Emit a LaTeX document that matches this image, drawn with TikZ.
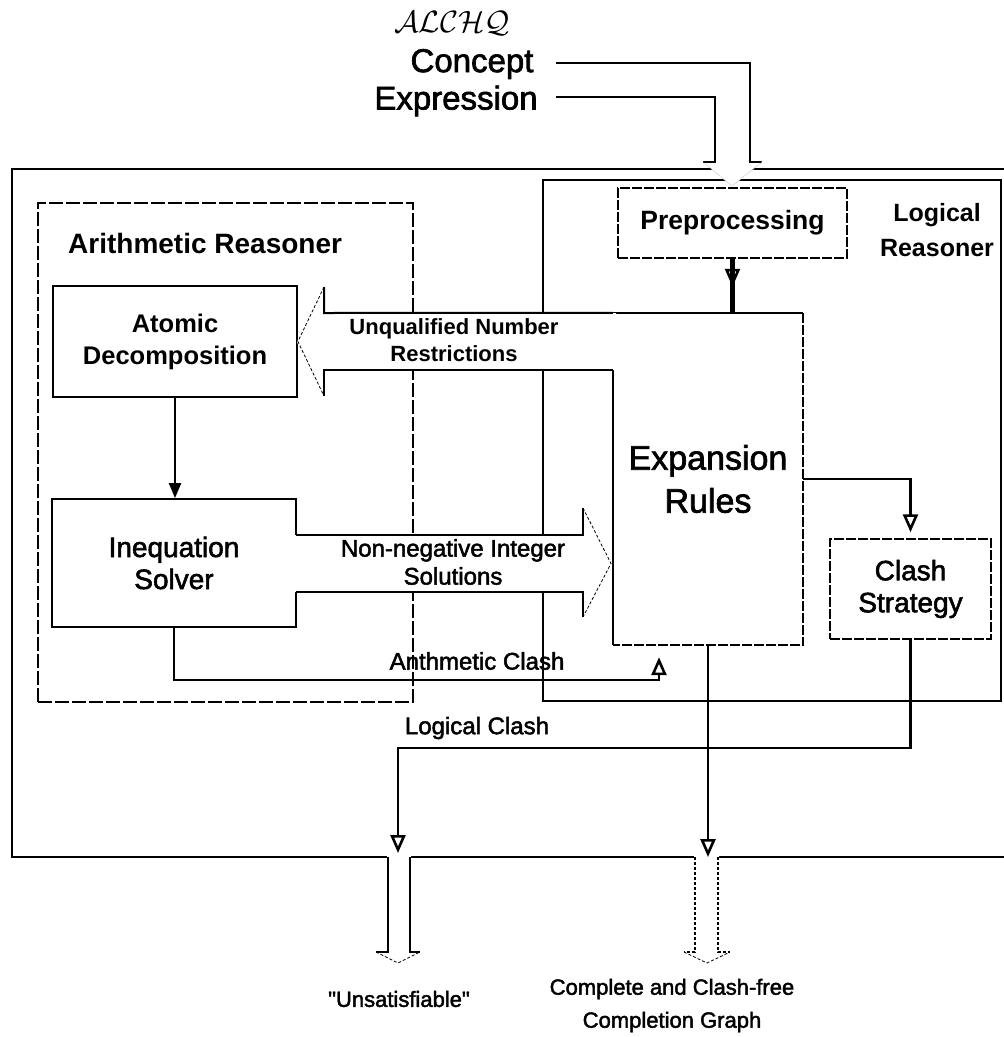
\documentclass[tikz,border=0pt]{standalone}
\usepackage{fontspec}
\setmainfont{Liberation Sans}
\newfontfamily\scanfont{Liberation Sans}[FakeBold=2]
\newfontfamily\headfont{Liberation Sans Bold}
\usetikzlibrary{arrows.meta,calc}
\begin{document}
\begin{tikzpicture}[x=1pt,y=-1pt,
  outerframe/.style={line width=2.8pt},
  groupbox/.style={draw, line width=1.4pt, dash pattern=on 14pt off 3pt, inner sep=0pt},
  logicbox/.style={draw, line width=2.5pt, inner sep=0pt},
  solidbox/.style={draw, line width=1.8pt, inner sep=0pt, align=center},
  dashbox/.style={draw, line width=1.5pt, dash pattern=on 10pt off 2pt, inner sep=0pt, align=center},
  headtext/.style={font=\headfont\fontsize{25}{35}\selectfont, inner sep=0pt, align=center},
  boxtext/.style={font=\scanfont\fontsize{28}{32}\selectfont},
  lbl/.style={font=\scanfont\fontsize{24}{28}\selectfont, inner sep=0pt, align=center},
  outtext/.style={font=\scanfont\fontsize{22}{33}\selectfont, inner sep=0pt, align=center},
  shaft/.style={line width=2pt},
  headedge/.style={line width=0.8pt, densely dashed},
  flow/.style={line width=2.8pt, -{Triangle[open, length=18pt, width=15pt, line width=2.6pt]}},
  filledflow/.style={line width=2.2pt, -{Triangle[length=15pt, width=12pt]}}
]
\useasboundingbox (0,0) rectangle (1004,1037);

% ---------- enclosing frames ----------
\draw[outerframe] (1004,169) -- (12,169) -- (12,857) -- (1004,857);
\coordinate (outerbottom) at (12,857);
\node[groupbox, minimum width=375pt, minimum height=499pt] (arith) at (225.5,452.5) {};
\node[logicbox, minimum width=458pt, minimum height=521pt] (logic) at (772,440.5) {};

\node[headtext, anchor=west, font=\headfont\fontsize{28}{35}\selectfont] (arithtitle) at (68,243) {Arithmetic Reasoner};
\node[headtext] (logictitle) at (937,230) {Logical\\Reasoner};

% ---------- component boxes ----------
\node[solidbox, minimum width=244pt, minimum height=111pt,
      font=\headfont\fontsize{25.5}{32}\selectfont] (atomic) at (175,341.5) {Atomic\\Decomposition};
\node[solidbox, minimum width=244pt, minimum height=128pt, boxtext] (ineq) at (174,563) {Inequation\\Solver};
\node[dashbox, minimum width=229pt, minimum height=70pt,
      font=\headfont\fontsize{26.5}{30}\selectfont] (preproc) at (732.5,223) {Preprocessing};
\node[inner sep=0pt, minimum width=190pt, minimum height=332pt, align=center,
      font=\scanfont\fontsize{34}{43}\selectfont] (expansion) at (708,479) {Expansion\\Rules};
\draw[line width=2pt] (expansion.south west) -- (expansion.north west) -- (expansion.north east);
\draw[line width=1.5pt, dash pattern=on 10pt off 2pt] (expansion.north east) -- (expansion.south east) -- (expansion.south west);
\node[dashbox, minimum width=161pt, minimum height=100pt, boxtext] (clash) at (910.5,589) {Clash\\Strategy};

% ---------- input: concept expression ----------
\node[font=\fontsize{24.88}{30}\selectfont, inner sep=0pt] (alchq) at (452,23) {\scalebox{1.24}{$\mathcal{ALCHQ}$}};
\node[font=\scanfont\fontsize{33}{36}\selectfont, inner sep=0pt] (concept) at (472,64) {Concept};
\node[font=\scanfont\fontsize{33}{36}\selectfont, inner sep=0pt] (expr) at (456,101) {Expression};

\fill[white] (556,63) -- (750,63) -- (750,162) -- (762,162) -- (732,186) -- (703,162)
  -- (715,162) -- (715,97) -- (556,97) -- cycle;
\draw[shaft] (556,63) -| (750,162) -- (762,162);
\draw[shaft] (556,97) -| (715,162) -- (703,162);
\draw[headedge, gray!50, densely dotted] (762,162) -- (732,186) -- (703,162);

% ---------- block arrow: unqualified number restrictions ----------
\fill[white] (616,313) -- (324,313) -- (324,287) -- (297,342) -- (324,396) -- (324,370) -- (616,370) -- cycle;
\draw[shaft] (expansion.north west) -- (324,313) -- (324,287);
\draw[shaft] (613,370) -- (324,370) -- (324,396);
\draw[headedge] (324,287) -- (atomic.east) -- (324,396);
\node[lbl, font=\headfont\fontsize{22}{27}\selectfont] (uqlabel) at (454,340.5) {Unqualified Number\\Restrictions};

% ---------- block arrow: non-negative integer solutions ----------
\fill[white] (294,535) -- (583,535) -- (583,508) -- (611,563.5) -- (583,617) -- (583,592) -- (294,592) -- cycle;
\draw[shaft] (296,535) -- (583,535) -- (583,508);
\draw[shaft] (296,592) -- (583,592) -- (583,617);
\draw[headedge] (583,508) -- (611,563.5) -- (583,617);
\node[lbl] (nnlabel) at (453,562) {Non-negative Integer\\Solutions};

% ---------- connectors ----------
\draw[filledflow] (atomic.south) -- (atomic.south |- ineq.north);
\draw[line width=4.5pt] (preproc.south) -- (preproc.south |- expansion.north);
\draw[flow, line width=4.5pt] (preproc.south) -- ++(0,28);
\draw[flow, shorten >=6pt] (expansion.east) -| (clash.north);

\coordinate (acturn) at (659,680);
\draw[flow, shorten >=12pt] (ineq.south) |- (acturn) -- (acturn |- expansion.south);
\node[lbl] (aclabel) at (477,661) {Anthmetic Clash};

\coordinate (lcturn) at (398,748);
\draw[flow, shorten >=4pt] (clash.south) |- (lcturn) -- (lcturn |- outerbottom);
\node[lbl] (lclabel) at (477,728) {Logical Clash};

% ---------- output block arrows ----------
\fill[white] (387,854) -- (387,952) -- (376,952) -- (398,963) -- (421,952) -- (411,952) -- (411,854) -- cycle;
\draw[shaft] (388,857) -- (388,952) -- (376,952);
\draw[shaft] (410,857) -- (410,952) -- (420,952);
\draw[headedge] (376,952) -- (398,963) -- (420,952);

\fill[white] (694,854) -- (694,952) -- (684,952) -- (707,963) -- (730,952) -- (719,952) -- (719,854) -- cycle;
\draw[line width=1.4pt, densely dashed] (695,857) -- (695,952) -- (684,952);
\draw[line width=1.4pt, densely dashed] (718,857) -- (718,952) -- (730,952);
\draw[headedge] (684,952) -- (707,963) -- (730,952);
\draw[flow] (expansion.south) -- (expansion.south |- outerbottom);

\node[outtext] (unsat) at (399,999) {"Unsatisfiable"};
\node[outtext] (graph) at (672,1005.5) {Complete and Clash-free\\Completion Graph};
\end{tikzpicture}
\end{document}
